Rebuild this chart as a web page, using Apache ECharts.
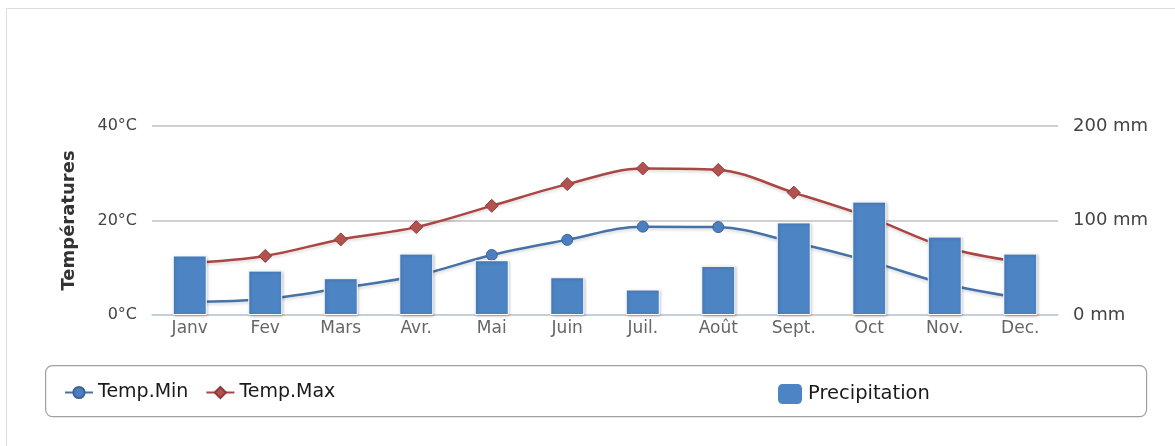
<!DOCTYPE html>
<html>
<head>
<meta charset="utf-8">
<script src="https://cdn.jsdelivr.net/npm/echarts@6/dist/echarts.min.js"></script>
<style>
html, body { margin: 0; padding: 0; background: #fff; }
#chart { width: 1175px; height: 446px; }
</style>
</head>
<body>
<div id="chart"></div>
<script>
// categories + series
var months = ['Janv', 'Fev', 'Mars', 'Avr.', 'Mai', 'Juin', 'Juil.', 'Août', 'Sept.', 'Oct', 'Nov.', 'Dec.'];
var tempMin = [2.8, 3.4, 5.7, 8.3, 12.7, 15.9, 18.7, 18.6, 15.4, 11.4, 6.6, 3.6];
var tempMax = [11, 12.5, 16, 18.6, 23.1, 27.7, 31, 30.7, 25.9, 20.7, 14.4, 11.2];
var precip = [63, 47, 39, 65, 58, 40, 27, 52, 98, 120, 83, 65];

var font = '"DejaVu Sans", "Open Sans", sans-serif';
var chart = echarts.init(document.getElementById('chart'));

chart.setOption({
    animation: false,
    textStyle: { fontFamily: font },
    grid: { left: 152, right: 117, top: 126, bottom: 131 },
    graphic: [
        // outer frame
        { type: 'rect', left: 4, top: 6, shape: { width: 1200, height: 500 }, style: { fill: 'none', stroke: '#dcdcdc', lineWidth: 1 }, silent: true, z: -10 },
        // legend box
        { type: 'rect', left: 45, top: 365, shape: { x: 0, y: 0, width: 1101, height: 51, r: 7 }, style: { fill: '#fff', stroke: '#a0a0a0', lineWidth: 1.2 }, silent: true, z: -5 }
    ],
    legend: [
        {
            left: 59, top: 378, itemGap: 17, itemWidth: 28, itemHeight: 14,
            textStyle: { fontSize: 19, color: '#1a1a1a', fontFamily: font },
            data: ['Temp.Min', 'Temp.Max']
        },
        {
            left: 771, top: 377, itemWidth: 26, itemHeight: 22,
            textStyle: { fontSize: 19.5, color: '#1a1a1a', fontFamily: font },
            data: [{ name: 'Precipitation', icon: 'roundRect' }]
        }
    ],
    xAxis: {
        type: 'category',
        data: months,
        boundaryGap: true,
        axisLine: { lineStyle: { color: '#c0d0e0', width: 1.5 } },
        axisTick: { length: 6, lineStyle: { color: '#c0d0e0' } },
        axisLabel: { color: '#666', fontSize: 17, margin: 5, fontFamily: font }
    },
    yAxis: [
        {
            type: 'value', min: 0, max: 40, interval: 20,
            name: 'Températures', nameLocation: 'middle', nameGap: 74, nameRotate: 90,
            nameTextStyle: { fontWeight: 'bold', fontSize: 18, color: '#333', fontFamily: font },
            axisLabel: { formatter: '{value}°C', color: '#444', fontSize: 16, margin: 15 },
            splitLine: { lineStyle: { color: '#c0c0c0', width: 1.5 } },
            axisLine: { show: false }, axisTick: { show: false }
        },
        {
            type: 'value', min: 0, max: 200, interval: 100,
            axisLabel: { formatter: '{value} mm', color: '#444', fontSize: 18, margin: 15 },
            splitLine: { show: false },
            axisLine: { show: false }, axisTick: { show: false }
        }
    ],
    series: [
        {
            name: 'Temp.Min', type: 'line', yAxisIndex: 0, smooth: 0.35,
            data: tempMin, symbol: 'circle', symbolSize: 11, z: 2,
            lineStyle: { color: '#4572a7', width: 2.5, shadowColor: 'rgba(0,0,0,0.15)', shadowBlur: 3, shadowOffsetY: 2 },
            itemStyle: { color: '#4a7fc2', borderColor: '#3d6594', borderWidth: 1 }
        },
        {
            name: 'Temp.Max', type: 'line', yAxisIndex: 0, smooth: 0.35,
            data: tempMax, symbol: 'diamond', symbolSize: 13, z: 2,
            lineStyle: { color: '#aa4643', width: 2.5, shadowColor: 'rgba(0,0,0,0.15)', shadowBlur: 3, shadowOffsetY: 2 },
            itemStyle: { color: '#b2524f', borderColor: '#8f3a37', borderWidth: 1 }
        },
        {
            name: 'Precipitation', type: 'bar', yAxisIndex: 1,
            data: precip, barWidth: 34, z: 3,
            itemStyle: { color: '#4d84c4', borderColor: '#fff', borderWidth: 1, shadowColor: 'rgba(0,0,0,0.25)', shadowBlur: 3, shadowOffsetX: 1, shadowOffsetY: 1 }
        }
    ]
});
</script>
</body>
</html>
